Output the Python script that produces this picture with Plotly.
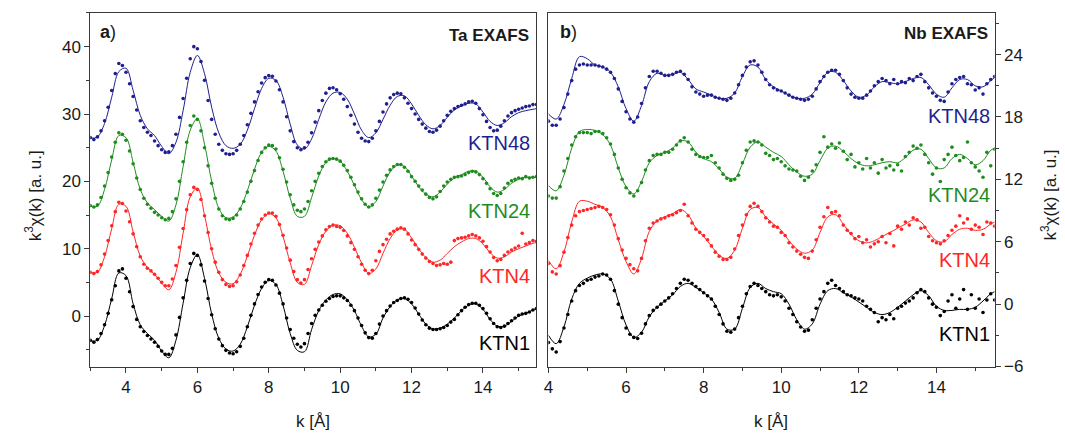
import plotly.graph_objects as go

# ---------------- data ----------------
K_TA = [3.0, 3.1, 3.2, 3.3, 3.4, 3.5, 3.6, 3.7, 3.8, 3.9,
        4.0, 4.1, 4.2, 4.3, 4.4, 4.5, 4.6, 4.7, 4.8, 4.9,
        5.0, 5.1, 5.2, 5.3, 5.4, 5.5, 5.6, 5.7, 5.8, 5.9,
        6.0, 6.1, 6.2, 6.3, 6.4, 6.5, 6.6, 6.7, 6.8, 6.9,
        7.0, 7.1, 7.2, 7.3, 7.4, 7.5, 7.6, 7.7, 7.8, 7.9,
        8.0, 8.1, 8.2, 8.3, 8.4, 8.5, 8.6, 8.7, 8.8, 8.9,
        9.0, 9.1, 9.2, 9.3, 9.4, 9.5, 9.6, 9.7, 9.8, 9.9,
        10.0, 10.1, 10.2, 10.3, 10.4, 10.5, 10.6, 10.7, 10.8, 10.9,
        11.0, 11.1, 11.2, 11.3, 11.4, 11.5, 11.6, 11.7, 11.8, 11.9,
        12.0, 12.1, 12.2, 12.3, 12.4, 12.5, 12.6, 12.7, 12.8, 12.9,
        13.0, 13.1, 13.2, 13.3, 13.4, 13.5, 13.6, 13.7, 13.8, 13.9,
        14.0, 14.1, 14.2, 14.3, 14.4, 14.5, 14.6, 14.7, 14.8, 14.9,
        15.0, 15.1, 15.2, 15.3, 15.4, 15.5]

TA_KTN48 = [26.5, 26.2, 26.6, 27.5, 29.0, 31.0, 33.5, 36.0, 37.5, 37.2,
            36.2, 34.5, 32.6, 30.6, 29.0, 28.0, 27.3, 26.8, 26.0, 25.3,
            24.7, 24.3, 24.4, 25.3, 27.0, 29.5, 32.3, 35.3, 38.2, 40.0,
            39.7, 37.8, 35.0, 32.0, 29.2, 27.0, 25.5, 24.6, 24.1, 24.0,
            24.1, 24.6, 25.5, 26.8, 28.4, 30.1, 31.8, 33.3, 34.6, 35.4,
            35.7, 35.6, 34.9, 33.6, 31.8, 29.6, 27.5, 25.9, 25.0, 24.7,
            25.0, 25.8, 27.2, 28.8, 30.5, 32.0, 33.1, 33.8, 33.9, 33.6,
            33.0, 32.2, 31.1, 29.8, 28.5, 27.3, 26.4, 26.0, 25.9, 26.4,
            27.5, 28.9, 30.3, 31.5, 32.4, 32.9, 33.1, 33.0, 32.4, 31.6,
            30.8, 30.0, 29.2, 28.5, 27.9, 27.4, 27.3, 27.6, 28.2, 29.0,
            29.8, 30.4, 30.8, 31.1, 31.3, 31.5, 31.8, 31.9, 31.6, 30.8,
            29.9, 28.9, 28.0, 27.5, 27.6, 28.2, 29.0, 29.7, 30.2, 30.5,
            30.7, 30.9, 31.1, 31.2, 31.4, 31.4]

TA_KTN24 = [16.4, 16.2, 16.5, 17.6, 19.3, 21.3, 23.6, 25.8, 27.2, 27.0,
            26.1, 24.5, 22.6, 20.5, 18.8, 17.5, 16.6, 16.0, 15.4, 15.0,
            14.6, 14.3, 14.5, 15.5, 17.4, 20.0, 22.9, 25.8, 28.3, 29.7,
            29.2, 27.5, 25.0, 22.3, 19.7, 17.5, 15.9, 14.9, 14.4, 14.3,
            14.5, 15.0, 15.9, 17.0, 18.4, 20.0, 21.6, 23.1, 24.3, 25.0,
            25.4, 25.3, 24.8, 23.5, 21.8, 19.9, 18.0, 16.5, 15.7, 15.5,
            15.9, 17.0, 18.6, 20.0, 21.2, 22.2, 22.9, 23.3, 23.4, 23.3,
            23.0, 22.4, 21.6, 20.6, 19.5, 18.4, 17.4, 16.6, 16.2, 16.5,
            17.5, 18.7, 19.9, 20.9, 21.7, 22.2, 22.5, 22.5, 22.1, 21.5,
            20.7, 20.0, 19.3, 18.7, 18.1, 17.6, 17.4, 17.7, 18.5, 19.3,
            19.9, 20.3, 20.6, 20.7, 20.8, 21.0, 21.3, 21.5, 21.4, 21.0,
            20.4, 19.7, 18.9, 18.2, 17.9, 18.2, 19.0, 19.7, 20.1, 20.3,
            20.5, 20.4, 20.7, 20.5, 20.6, 20.7]

TA_KTN4 = [6.5, 6.3, 6.6, 7.6, 9.2, 11.2, 13.4, 15.5, 16.9, 16.7,
           15.6, 14.0, 12.2, 10.3, 8.8, 7.7, 7.1, 6.7, 6.2, 5.6,
           5.0, 4.5, 4.5, 5.5, 7.5, 10.2, 13.0, 15.8, 18.0, 19.1,
           18.8, 17.3, 14.9, 12.4, 10.0, 8.0, 6.5, 5.4, 4.7, 4.4,
           4.5, 5.1, 6.1, 7.5, 9.0, 10.7, 12.3, 13.5, 14.4, 15.0,
           15.3, 15.3, 14.8, 13.6, 12.0, 10.1, 8.3, 6.6, 5.4, 4.9,
           5.4, 6.9, 8.5, 9.9, 11.0, 11.9, 12.8, 13.3, 13.5, 13.3,
           13.2, 12.7, 11.9, 10.9, 9.9, 8.8, 7.7, 6.8, 6.3, 6.8,
           8.2, 9.6, 10.6, 11.4, 12.2, 12.6, 12.9, 13.1, 12.9, 12.2,
           11.3, 10.6, 9.9, 9.2, 8.6, 8.1, 7.8, 7.5, 7.6, 7.8,
           7.7, 8.0, 11.2, 11.5, 11.6, 11.7, 11.9, 12.1, 11.9, 11.6,
           11.1, 10.3, 9.5, 8.7, 8.2, 8.4, 9.0, 9.5, 9.8, 10.1,
           10.4, 12.3, 10.7, 10.9, 11.2, 11.1]

TA_KTN1 = [-3.6, -3.9, -3.5, -2.6, -1.3, 0.4, 2.4, 4.5, 6.7, 7.0,
           5.6, 3.6, 1.4, -0.5, -1.6, -2.3, -2.9, -3.4, -3.9, -4.5,
           -5.2, -5.7, -5.7, -4.8, -2.8, -0.2, 2.7, 5.3, 7.8, 9.3,
           9.0, 7.6, 5.2, 2.6, 0.2, -1.9, -3.4, -4.4, -5.1, -5.5,
           -5.6, -5.3, -4.5, -3.3, -1.6, 0.1, 1.8, 3.2, 4.3, 5.0,
           5.4, 5.3, 4.6, 3.4, 1.8, -0.3, -2.0, -3.3, -4.2, -4.6,
           -4.1, -2.6, -1.1, 0.1, 0.9, 1.6, 2.2, 2.6, 2.9, 3.0,
           3.0, 2.7, 2.3, 1.6, 0.8, -0.3, -1.4, -2.5, -3.2, -3.3,
           -2.6, -1.2, 0.0, 0.8, 1.5, 2.0, 2.3, 2.6, 2.7, 2.5,
           2.0, 1.2, 0.3, -0.6, -1.3, -1.8, -2.0, -2.0, -1.9, -1.7,
           -1.4, -0.9, -0.5, 0.2, 0.8, 1.3, 1.7, 1.9, 1.9, 1.6,
           1.1, 0.4, -0.4, -1.1, -1.6, -1.7, -1.5, -1.1, -0.7, -0.3,
           0.1, 0.3, 0.4, 0.6, 0.9, 1.1]

K_TA_FIT = [3.0, 3.2, 3.4, 3.6, 3.8, 4.0, 4.2, 4.4, 4.6, 4.8,
            5.0, 5.2, 5.4, 5.6, 5.8, 6.0, 6.2, 6.4, 6.6, 6.8,
            7.0, 7.2, 7.4, 7.6, 7.8, 8.0, 8.2, 8.4, 8.6, 8.8,
            9.0, 9.2, 9.4, 9.6, 9.8, 10.0, 10.2, 10.4, 10.6, 10.8,
            11.0, 11.2, 11.4, 11.6, 11.8, 12.0, 12.2, 12.4, 12.6, 12.8,
            13.0, 13.2, 13.4, 13.6, 13.8, 14.0, 14.2, 14.4, 14.6, 14.8,
            15.0, 15.2, 15.4, 15.5]

TA_KTN48_FIT = [26.4, 26.6, 28.6, 32.5, 36.3, 36.8, 33.5, 29.8, 27.8, 26.8,
                25.2, 24.1, 25.8, 30.5, 36.2, 38.7, 36.0, 31.0, 27.2, 25.3,
                24.9, 25.5, 27.6, 30.8, 33.8, 35.3, 35.0, 32.5, 28.5, 25.4,
                24.8, 26.3, 29.2, 31.8, 33.1, 33.2, 32.2, 30.0, 27.6, 26.5,
                27.2, 29.2, 31.3, 32.6, 32.7, 31.5, 29.8, 28.4, 27.8, 28.3,
                29.5, 30.6, 31.2, 31.6, 31.5, 30.3, 28.9, 28.3, 28.7, 29.6,
                30.2, 30.5, 30.7, 30.8]

TA_KTN24_FIT = [16.3, 16.3, 18.8, 23.2, 26.8, 26.5, 22.8, 18.8, 16.8, 15.8,
                14.8, 14.1, 16.5, 22.2, 27.6, 29.3, 25.5, 20.0, 16.0, 14.6,
                14.7, 16.0, 18.6, 21.8, 24.3, 25.2, 24.5, 21.5, 17.5, 14.8,
                14.8, 17.6, 20.8, 22.8, 23.4, 23.0, 21.5, 19.4, 17.3, 16.2,
                17.0, 19.3, 21.4, 22.4, 22.2, 20.8, 19.2, 18.1, 17.7, 18.4,
                19.6, 20.5, 21.0, 21.5, 21.5, 20.6, 19.2, 18.4, 18.8, 19.7,
                20.3, 20.6, 20.6, 20.6]

TA_KTN4_FIT = [6.4, 6.5, 8.8, 13.0, 16.6, 16.3, 12.5, 8.9, 7.2, 6.2,
               4.9, 3.9, 6.5, 12.3, 17.7, 19.0, 15.0, 9.8, 6.4, 5.0,
               4.8, 6.2, 8.9, 12.0, 14.3, 15.2, 14.6, 11.8, 7.9, 5.0,
               4.7, 7.5, 10.6, 12.6, 13.5, 13.4, 12.3, 10.2, 7.9, 6.3,
               7.0, 9.3, 11.5, 12.8, 12.9, 11.6, 10.0, 8.7, 8.0, 8.3,
               9.3, 10.3, 11.0, 11.5, 11.5, 10.7, 9.4, 8.6, 8.8, 9.5,
               10.0, 10.4, 10.8, 10.9]

TA_KTN1_FIT = [-3.7, -3.6, -1.4, 2.6, 6.4, 6.0, 1.8, -1.3, -2.6, -3.6,
               -5.2, -6.2, -3.6, 1.9, 7.2, 9.1, 5.6, 0.3, -3.3, -4.9,
               -5.2, -4.2, -1.6, 1.6, 4.1, 5.3, 4.7, 1.6, -2.6, -5.1,
               -5.3, -2.0, 0.8, 2.4, 3.2, 3.3, 2.4, 0.8, -1.5, -3.1,
               -2.7, -0.3, 1.4, 2.4, 2.6, 1.8, 0.3, -1.2, -1.9, -1.8,
               -1.2, -0.3, 0.8, 1.6, 1.8, 1.0, -0.5, -1.5, -1.5, -0.8,
               0.0, 0.4, 0.9, 1.1]

K_NB = [4.0, 4.1, 4.2, 4.3, 4.4, 4.5, 4.6, 4.7, 4.8, 4.9,
        5.0, 5.1, 5.2, 5.3, 5.4, 5.5, 5.6, 5.7, 5.8, 5.9,
        6.0, 6.1, 6.2, 6.3, 6.4, 6.5, 6.6, 6.7, 6.8, 6.9,
        7.0, 7.1, 7.2, 7.3, 7.4, 7.5, 7.6, 7.7, 7.8, 7.9,
        8.0, 8.1, 8.2, 8.3, 8.4, 8.5, 8.6, 8.7, 8.8, 8.9,
        9.0, 9.1, 9.2, 9.3, 9.4, 9.5, 9.6, 9.7, 9.8, 9.9,
        10.0, 10.1, 10.2, 10.3, 10.4, 10.5, 10.6, 10.7, 10.8, 10.9,
        11.0, 11.1, 11.2, 11.3, 11.4, 11.5, 11.6, 11.7, 11.8, 11.9,
        12.0, 12.1, 12.2, 12.3, 12.4, 12.5, 12.6, 12.7, 12.8, 12.9,
        13.0, 13.1, 13.2, 13.3, 13.4, 13.5, 13.6, 13.7, 13.8, 13.9,
        14.0, 14.1, 14.2, 14.3, 14.4, 14.5, 14.6, 14.7, 14.8, 14.9,
        15.0, 15.1, 15.2, 15.3, 15.4, 15.5]

NB_KTN48 = [17.6, 17.2, 17.2, 17.8, 18.9, 20.2, 21.5, 22.6, 23.0, 23.1,
            23.0, 23.0, 23.0, 22.9, 22.8, 22.6, 22.3, 21.7, 20.7, 19.5,
            18.5, 17.8, 17.5, 18.0, 19.3, 20.8, 21.9, 22.4, 22.4, 22.2,
            22.0, 22.0, 22.1, 22.3, 22.4, 22.1, 21.6, 20.9, 20.4, 20.2,
            20.0, 20.1, 20.1, 19.9, 19.8, 19.7, 19.6, 19.8, 20.3, 21.1,
            22.0, 22.8, 23.3, 23.4, 23.0, 22.3, 21.6, 21.1, 20.8, 20.6,
            20.5, 20.3, 20.1, 19.9, 19.8, 19.7, 19.6, 19.7, 20.0, 20.7,
            21.4, 21.9, 22.3, 22.5, 22.5, 22.1, 21.5, 20.8, 20.2, 19.9,
            19.8, 19.8, 20.1, 20.5, 21.0, 21.4, 21.7, 21.5, 21.2, 21.6,
            21.2, 21.4, 21.3, 21.7, 21.5, 21.9, 22.1, 21.4, 20.8, 20.3,
            20.0, 19.6, 19.5, 20.4, 21.2, 21.6, 21.8, 21.9, 21.2, 21.1,
            20.6, 20.8, 20.2, 21.2, 21.6, 21.9]

NB_KTN24 = [10.4, 10.2, 10.2, 11.3, 12.8, 14.0, 15.3, 16.1, 16.5, 16.5,
            16.5, 16.4, 16.6, 16.6, 16.4, 16.0, 15.4, 14.4, 13.1, 12.0,
            11.2, 10.7, 10.4, 10.9, 11.7, 12.9, 13.8, 14.3, 14.4, 14.4,
            14.6, 14.6, 14.9, 15.3, 15.7, 16.0, 15.6, 14.9, 14.4, 14.2,
            14.1, 14.1, 14.3, 13.6, 13.1, 12.5, 12.1, 11.9, 12.0, 12.4,
            13.6, 14.8, 15.6, 15.7, 15.6, 15.3, 14.5, 14.3, 13.9, 14.0,
            13.7, 13.3, 13.0, 12.9, 12.8, 12.3, 11.9, 12.2, 12.8, 13.4,
            14.6, 16.1, 15.1, 15.4, 15.0, 15.5, 14.7, 13.9, 14.4, 13.2,
            13.6, 13.0, 14.0, 13.1, 13.6, 12.6, 13.9, 13.1, 13.3, 12.9,
            13.4, 12.8, 14.2, 14.6, 15.2, 15.0, 15.3, 14.4, 13.6, 12.5,
            13.1, 11.8, 13.9, 14.4, 15.1, 14.3, 13.8, 14.1, 15.6, 13.6,
            13.2, 12.8, 12.2, 14.6, 13.3, 14.9]

NB_KTN4 = [3.9, 3.1, 2.9, 3.7, 5.0, 6.4, 7.6, 8.5, 8.9, 9.0,
           9.1, 9.2, 9.3, 9.4, 9.3, 9.1, 8.6, 7.6, 6.3, 5.2,
           4.4, 3.8, 3.4, 3.2, 4.4, 6.1, 7.3, 7.8, 8.0, 8.2,
           8.3, 8.5, 8.6, 8.8, 9.0, 9.6, 8.5, 7.8, 7.2, 6.9,
           6.6, 6.2, 5.6, 5.0, 4.6, 4.3, 4.3, 4.5, 5.3, 6.6,
           7.6, 8.6, 9.4, 9.7, 9.4, 8.9, 8.3, 7.9, 7.5, 7.4,
           6.9, 6.6, 5.9, 5.5, 5.1, 4.8, 4.5, 4.4, 5.1, 6.2,
           7.4, 8.4, 9.3, 8.8, 8.9, 8.5, 7.6, 7.1, 6.8, 6.3,
           6.5, 5.9, 6.2, 5.5, 5.8, 6.0, 6.5, 5.9, 6.8, 5.6,
           7.5, 7.2, 7.9, 7.6, 8.3, 8.1, 7.3, 7.4, 6.5, 6.1,
           5.9, 5.8, 6.1, 6.6, 7.1, 7.5, 8.5, 7.8, 8.2, 7.2,
           7.6, 7.4, 6.7, 7.9, 7.8, 7.5]

NB_KTN1 = [-3.7, -4.3, -4.6, -3.6, -2.3, -1.0, 0.3, 1.3, 1.8, 2.0,
           2.3, 2.4, 2.6, 2.7, 2.9, 2.8, 2.4, 1.3, 0.0, -1.3,
           -2.3, -2.9, -3.2, -3.3, -2.8, -1.9, -1.1, -0.6, -0.3, 0.0,
           0.3, 0.6, 1.0, 1.5, 2.0, 2.4, 2.3, 2.0, 1.7, 1.4,
           1.1, 0.8, 0.5, -0.2, -1.0, -1.9, -2.6, -2.7, -2.4, -1.3,
           -0.2, 1.0, 1.7, 2.0, 1.8, 1.5, 1.2, 0.9, 0.8, 0.9,
           0.7, 0.3, -0.4, -1.0, -1.7, -2.2, -2.6, -2.5, -1.5, -0.4,
           0.5, 1.2, 2.0, 2.3, 1.8, 1.5, 1.2, 0.9, 0.8, 0.6,
           0.5, 0.3, -0.2, -0.5, -0.8, -1.7, -1.3, -1.5, -1.0, -1.4,
           -0.4, -0.2, 0.1, 0.3, 0.6, 1.1, 1.4, 1.2, 0.6, 0.0,
           -0.3, -1.1, -0.7, 0.3, 0.9, -0.4, 0.5, 1.4, -0.5, 0.9,
           -0.4, 0.5, -0.8, 0.4, 1.0, 0.4]

K_NB_FIT = [4.0, 4.2, 4.4, 4.6, 4.8, 5.0, 5.2, 5.4, 5.6, 5.8,
            6.0, 6.2, 6.4, 6.6, 6.8, 7.0, 7.2, 7.4, 7.6, 7.8,
            8.0, 8.2, 8.4, 8.6, 8.8, 9.0, 9.2, 9.4, 9.6, 9.8,
            10.0, 10.2, 10.4, 10.6, 10.8, 11.0, 11.2, 11.4, 11.6, 11.8,
            12.0, 12.2, 12.4, 12.6, 12.8, 13.0, 13.2, 13.4, 13.6, 13.8,
            14.0, 14.2, 14.4, 14.6, 14.8, 15.0, 15.2, 15.4, 15.5]

NB_KTN48_FIT = [18.3, 17.8, 19.2, 21.7, 23.8, 23.6, 23.0, 22.8, 22.3, 20.9,
                18.8, 17.6, 19.1, 21.4, 22.2, 22.0, 22.1, 22.3, 21.6, 20.7,
                20.4, 20.1, 19.8, 19.8, 20.3, 21.9, 23.0, 22.8, 21.6, 20.9,
                20.5, 20.1, 19.8, 19.8, 20.2, 21.3, 22.3, 22.3, 21.5, 20.5,
                19.9, 20.1, 20.9, 21.4, 21.3, 21.2, 21.4, 21.7, 21.8, 21.1,
                20.2, 19.9, 20.8, 21.6, 21.6, 21.0, 20.9, 21.5, 21.8]

NB_KTN24_FIT = [11.4, 10.9, 12.4, 15.0, 16.6, 16.8, 16.7, 16.3, 15.3, 13.1,
                11.3, 10.6, 11.8, 13.6, 14.3, 14.6, 15.0, 15.7, 15.6, 14.6,
                14.0, 13.7, 13.0, 12.2, 12.1, 13.5, 15.1, 15.6, 15.1, 14.6,
                14.2, 13.4, 12.7, 12.3, 12.5, 13.8, 15.0, 15.2, 14.7, 14.0,
                13.5, 13.3, 13.4, 13.6, 13.7, 13.6, 14.1, 14.8, 14.9, 14.0,
                13.1, 13.1, 14.0, 14.4, 14.0, 13.4, 13.8, 14.8, 15.0]

NB_KTN4_FIT = [4.2, 3.4, 5.0, 7.9, 9.9, 9.9, 9.6, 9.3, 8.4, 6.2,
               4.1, 2.9, 4.4, 7.0, 8.0, 8.4, 8.7, 9.1, 8.6, 7.3,
               6.5, 5.6, 4.7, 4.4, 5.2, 7.3, 9.1, 9.3, 8.4, 7.7,
               7.1, 6.1, 5.3, 4.9, 5.2, 6.9, 8.4, 8.6, 7.7, 6.7,
               6.1, 5.9, 6.1, 6.5, 6.9, 7.3, 7.7, 8.1, 7.9, 6.9,
               6.1, 6.0, 6.7, 7.2, 7.3, 7.1, 7.2, 7.7, 7.9]

NB_KTN1_FIT = [-3.0, -3.8, -2.2, 0.5, 2.0, 2.5, 2.8, 2.9, 2.4, 0.3,
               -2.0, -3.2, -2.7, -1.2, -0.3, 0.3, 0.9, 1.7, 2.0, 1.6,
               1.1, 0.5, -0.8, -2.4, -2.4, -0.4, 1.6, 2.0, 1.5, 1.2,
               1.0, 0.0, -1.5, -2.4, -1.9, 0.0, 1.3, 1.5, 1.1, 0.7,
               0.2, -0.3, -0.8, -1.0, -0.8, -0.3, 0.3, 0.9, 1.3, 0.8,
               -0.2, -0.6, -0.6, -0.5, -0.5, -0.3, 0.3, 1.0, 1.2]

SAMPLES = ["KTN48", "KTN24", "KTN4", "KTN1"]
COLORS = ["#1f1f8f", "#1f8c1f", "#ff2626", "#000000"]

TA_DOTS = [TA_KTN48, TA_KTN24, TA_KTN4, TA_KTN1]
TA_FITS = [TA_KTN48_FIT, TA_KTN24_FIT, TA_KTN4_FIT, TA_KTN1_FIT]
NB_DOTS = [NB_KTN48, NB_KTN24, NB_KTN4, NB_KTN1]
NB_FITS = [NB_KTN48_FIT, NB_KTN24_FIT, NB_KTN4_FIT, NB_KTN1_FIT]

TA_YTICKS = [0, 10, 20, 30, 40]
NB_YTICKS = [-6, 0, 6, 12, 18, 24]
XTICKS = [4, 6, 8, 10, 12, 14]

# ---------------- figure ----------------
W, H = 1065, 443
FONT = "Liberation Sans, Arial, sans-serif"

fig = go.Figure()


def add_panel(kd, dots, kf, fits, xa, ya):
    for vals, fit, col in zip(dots, fits, COLORS):
        n = min(len(kd), len(vals))
        fig.add_trace(go.Scatter(x=kd[:n], y=vals[:n], mode="markers",
                                 marker=dict(size=3.6, color=col),
                                 xaxis=xa, yaxis=ya, showlegend=False,
                                 hoverinfo="skip"))
        m = min(len(kf), len(fit))
        fig.add_trace(go.Scatter(x=kf[:m], y=fit[:m], mode="lines",
                                 line=dict(width=1, color=col, shape="spline",
                                           smoothing=1.0),
                                 xaxis=xa, yaxis=ya, showlegend=False,
                                 hoverinfo="skip"))


add_panel(K_TA, TA_DOTS, K_TA_FIT, TA_FITS, "x", "y")
add_panel(K_NB, NB_DOTS, K_NB_FIT, NB_FITS, "x2", "y2")


def px(x):
    return x / W


def py(y):
    return 1 - y / H


YDOM = [py(375), py(13.3)]
axis_common = dict(showline=True, linecolor="#3a3a3a", linewidth=1, mirror=True,
                   showgrid=False, zeroline=False, ticks="outside", ticklen=5,
                   tickcolor="#3a3a3a", tickfont=dict(family=FONT, size=17, color="#1a1a1a"))

fig.update_layout(
    width=W, height=H, autosize=False,
    margin=dict(l=0, r=0, t=0, b=0),
    paper_bgcolor="white", plot_bgcolor="white",
    font=dict(family=FONT, color="#1a1a1a"),
    xaxis=dict(domain=[px(85.7), px(534)], range=[3, 15.5], anchor="y",
               tickvals=XTICKS, minor=dict(dtick=1, ticks="outside", ticklen=3,
                                            tickcolor="#3a3a3a"),
               **axis_common),
    yaxis=dict(domain=YDOM, range=[-7.5, 45], anchor="x",
               tickvals=TA_YTICKS, minor=dict(dtick=5, ticks="outside", ticklen=3,
                                               tickcolor="#3a3a3a"),
               **axis_common),
    xaxis2=dict(domain=[px(546), px(994.3)], range=[4, 15.5], anchor="y2",
                tickvals=XTICKS, minor=dict(dtick=1, ticks="outside", ticklen=3,
                                             tickcolor="#3a3a3a"),
                **axis_common),
    yaxis2=dict(domain=YDOM, range=[-6, 28], anchor="x2", side="right",
                tickvals=NB_YTICKS, minor=dict(dtick=3, ticks="outside", ticklen=3,
                                                tickcolor="#3a3a3a"),
                **axis_common),
)

ann = []
# panel labels
ann.append(dict(text="<b>a</b>)", x=px(93), y=py(33), xanchor="left", yanchor="middle",
                font=dict(size=18)))
ann.append(dict(text="<b>Ta EXAFS</b>", x=px(528), y=py(36), xanchor="right",
                yanchor="middle", font=dict(size=17)))
ann.append(dict(text="<b>b</b>)", x=px(556), y=py(33), xanchor="left", yanchor="middle",
                font=dict(size=18)))
ann.append(dict(text="<b>Nb EXAFS</b>", x=px(990), y=py(34), xanchor="right",
                yanchor="middle", font=dict(size=17)))

# sample labels
ta_label_y = [146, 216, 282, 351]
nb_label_y = [119, 199, 266, 342]
for s, c, ly in zip(SAMPLES, COLORS, ta_label_y):
    ann.append(dict(text=s, x=px(529), y=py(ly), xanchor="right", yanchor="middle",
                    font=dict(size=20, color=c)))
for s, c, ly in zip(SAMPLES, COLORS, nb_label_y):
    ann.append(dict(text=s, x=px(992), y=py(ly), xanchor="right", yanchor="middle",
                    font=dict(size=20, color=c)))

# axis titles
ann.append(dict(text="k<sup>3</sup>χ(k) [a. u.]", x=px(29), y=py(200), textangle=-90,
                xanchor="center", yanchor="middle", font=dict(size=17)))
ann.append(dict(text="k<sup>3</sup>χ(k) [a. u.]", x=px(1049), y=py(200), textangle=-90,
                xanchor="center", yanchor="middle", font=dict(size=17)))
ann.append(dict(text="k [Å]", x=px(309), y=py(431), xanchor="center", yanchor="middle",
                font=dict(size=17)))
ann.append(dict(text="k [Å]", x=px(770), y=py(431), xanchor="center", yanchor="middle",
                font=dict(size=17)))

for a in ann:
    a.update(xref="paper", yref="paper", showarrow=False)
    f = a.get("font", {})
    f.setdefault("family", FONT)
    f.setdefault("color", "#1a1a1a")
    a["font"] = f

fig.update_layout(annotations=ann)

fig.write_html("out.html",
               config={"displayModeBar": False, "staticPlot": True},
               post_script="document.body.style.margin='0px';"
                           "document.body.style.overflow='hidden';")
